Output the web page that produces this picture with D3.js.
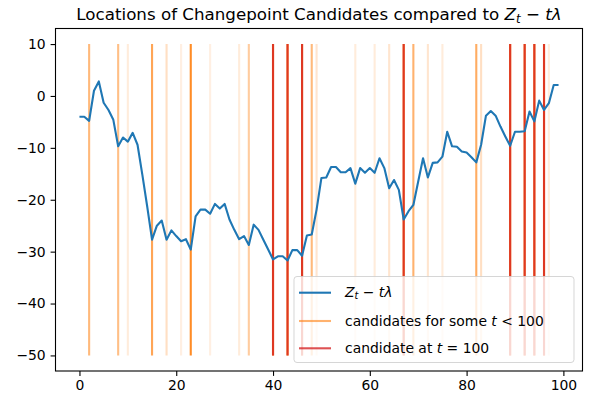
<!DOCTYPE html>
<html>
<head>
<meta charset="utf-8">
<script src="https://cdn.jsdelivr.net/npm/d3@7"></script>
<style>
body { margin: 0; background: #fff; }
svg { display: block; font-family: "DejaVu Sans", sans-serif; }
</style>
</head>
<body>
<svg id="chart"></svg>
<script>
// Z_t - t*lambda for t = 0..99
const zValues = [
    -4, -4, -4.8, 1, 2.8, -1.3, -2.7, -4.6, -9.7, -8,
    -8.8, -7.1, -9.4, -15.2, -21.3, -27.7, -25, -24, -27.7, -25.9,
    -27, -28, -27.6, -29.6, -23.2, -21.9, -21.9, -22.7, -20.8, -21.7,
    -20.8, -23.8, -25.8, -27.6, -27, -28.7, -24.8, -25.8, -27.7, -29.6,
    -31.5, -30.9, -30.9, -31.7, -29.7, -29.7, -30.8, -26.9, -26.7, -21.9,
    -15.8, -15.7, -13.7, -13.7, -14.7, -14.7, -13.9, -16.9, -13.9, -14.8,
    -13.9, -14.8, -12, -13.9, -17.8, -16.2, -18.1, -23.8, -22.2, -21,
    -16.5, -12, -15.7, -12.9, -12.8, -11.7, -6.9, -9.7, -9.8, -10.7,
    -10.9, -11.8, -12.8, -9.4, -3.8, -2.9, -3.8, -5.9, -7.8, -9.6,
    -6.9, -6.9, -6.8, -3, -4.9, -0.9, -2.7, -1.4, 2.1, 2.1
];

// candidate locations for some t < 100 and how often they show up (as opacity)
const pastCandidates = [2, 8, 10, 15, 18, 21, 23, 27, 33, 35, 40, 43, 46, 48, 49, 57, 61, 64, 67, 69, 72, 75, 82, 83, 89, 92, 94, 96, 97];
const pastWeight = [0.55, 0.5, 0.15, 0.7, 0.25, 0.12, 0.9, 0.12, 0.15, 0.4, 1, 1, 1, 0.55, 0.2, 0.15, 0.15, 0.2, 1, 0.6, 0.2, 0.15, 0.65, 0.25, 1, 1, 1, 1, 0.15];

// candidates at t = 100
const finalCandidates = [40, 43, 46, 67, 89, 92, 94, 96];

const lineRange = [-50, 10];
const xTicks = [0, 20, 40, 60, 80, 100];
const yTicks = [10, 0, -10, -20, -30, -40, -50];

const width = 592;
const height = 402;
const plotLeft = 55.5, plotRight = 582.5, plotTop = 28.5, plotBottom = 371;

const x = d3.scaleLinear().domain([-4.95, 103.95]).range([plotLeft, plotRight]);
const y = d3.scaleLinear().domain([-53, 13]).range([plotBottom, plotTop]);

const svg = d3.select("#chart")
    .attr("width", width)
    .attr("height", height)
    .attr("viewBox", [0, 0, width, height]);

// vertical lines
svg.append("g")
    .selectAll()
    .data(pastCandidates)
    .join("line")
    .attr("x1", d => x(d))
    .attr("x2", d => x(d))
    .attr("y1", y(lineRange[0]))
    .attr("y2", y(lineRange[1]))
    .attr("stroke", "#ff7f0e")
    .attr("stroke-opacity", (d, i) => pastWeight[i])
    .attr("stroke-width", 2.1);

svg.append("g")
    .selectAll()
    .data(finalCandidates)
    .join("line")
    .attr("x1", d => x(d))
    .attr("x2", d => x(d))
    .attr("y1", y(lineRange[0]))
    .attr("y2", y(lineRange[1]))
    .attr("stroke", "#d62728")
    .attr("stroke-opacity", 0.8)
    .attr("stroke-width", 2.1);

// the process itself
const line = d3.line()
    .x((d, i) => x(i))
    .y(d => y(d));

svg.append("path")
    .datum(zValues)
    .attr("fill", "none")
    .attr("stroke", "#1f77b4")
    .attr("stroke-width", 2.1)
    .attr("stroke-linejoin", "round")
    .attr("d", line);

// axes
const xAxis = svg.append("g")
    .attr("transform", `translate(0,${plotBottom})`)
    .call(d3.axisBottom(x).tickValues(xTicks).tickSize(4.9).tickPadding(4.2).tickSizeOuter(0));

const yAxis = svg.append("g")
    .attr("transform", `translate(${plotLeft},0)`)
    .call(d3.axisLeft(y).tickValues(yTicks).tickSize(4.9).tickPadding(4.9).tickSizeOuter(0));

for (const ax of [xAxis, yAxis]) {
    ax.select(".domain").remove();
    ax.selectAll("line").attr("stroke", "#000").attr("stroke-width", 1.1);
    ax.selectAll("text")
        .attr("fill", "#000")
        .style("font-size", "13.9px")
        .style("font-family", "DejaVu Sans");
}

svg.append("rect")
    .attr("x", plotLeft)
    .attr("y", plotTop)
    .attr("width", plotRight - plotLeft)
    .attr("height", plotBottom - plotTop)
    .attr("fill", "none")
    .attr("stroke", "#000")
    .attr("stroke-width", 1.1);

// title with the math part
const title = svg.append("text")
    .attr("x", (plotLeft + plotRight) / 2)
    .attr("y", 20)
    .attr("text-anchor", "middle")
    .style("font-size", "16.7px");
title.append("tspan").text("Locations of Changepoint Candidates compared to ");
title.append("tspan").attr("font-style", "italic").text("Z");
title.append("tspan").attr("font-style", "italic").attr("font-size", "11.7px").attr("dy", 3).text("t");
title.append("tspan").attr("dy", -3).text(" \u2212 ");
title.append("tspan").attr("font-style", "italic").text("t\u03bb");

// legend
const legend = svg.append("g");

legend.append("rect")
    .attr("x", 294)
    .attr("y", 276.5)
    .attr("width", 280)
    .attr("height", 86)
    .attr("rx", 3)
    .attr("fill", "#fff")
    .attr("fill-opacity", 0.8)
    .attr("stroke", "#ccc")
    .attr("stroke-opacity", 0.8)
    .attr("stroke-width", 1);

const rows = [
    { cy: 292.7, color: "#1f77b4", alpha: 1 },
    { cy: 321, color: "#ff7f0e", alpha: 0.6 },
    { cy: 348.3, color: "#d62728", alpha: 0.8 },
];

legend.selectAll(".handle")
    .data(rows)
    .join("line")
    .attr("class", "handle")
    .attr("x1", 299)
    .attr("x2", 331)
    .attr("y1", d => d.cy)
    .attr("y2", d => d.cy)
    .attr("stroke", d => d.color)
    .attr("stroke-opacity", d => d.alpha)
    .attr("stroke-width", 2.1);

const label = (cy) => legend.append("text")
    .attr("x", 345)
    .attr("y", cy + 5)
    .attr("fill", "#000")
    .style("font-size", "13.9px");

const l1 = label(rows[0].cy - 1);
l1.append("tspan").attr("font-style", "italic").text("Z");
l1.append("tspan").attr("font-style", "italic").attr("font-size", "9.7px").attr("dy", 2.5).text("t");
l1.append("tspan").attr("dy", -2.5).text(" \u2212 ");
l1.append("tspan").attr("font-style", "italic").text("t\u03bb");

const l2 = label(rows[1].cy);
l2.append("tspan").text("candidates for some ");
l2.append("tspan").attr("font-style", "italic").text("t");
l2.append("tspan").text(" < 100");

const l3 = label(rows[2].cy);
l3.append("tspan").text("candidate at ");
l3.append("tspan").attr("font-style", "italic").text("t");
l3.append("tspan").text(" = 100");
</script>
</body>
</html>
